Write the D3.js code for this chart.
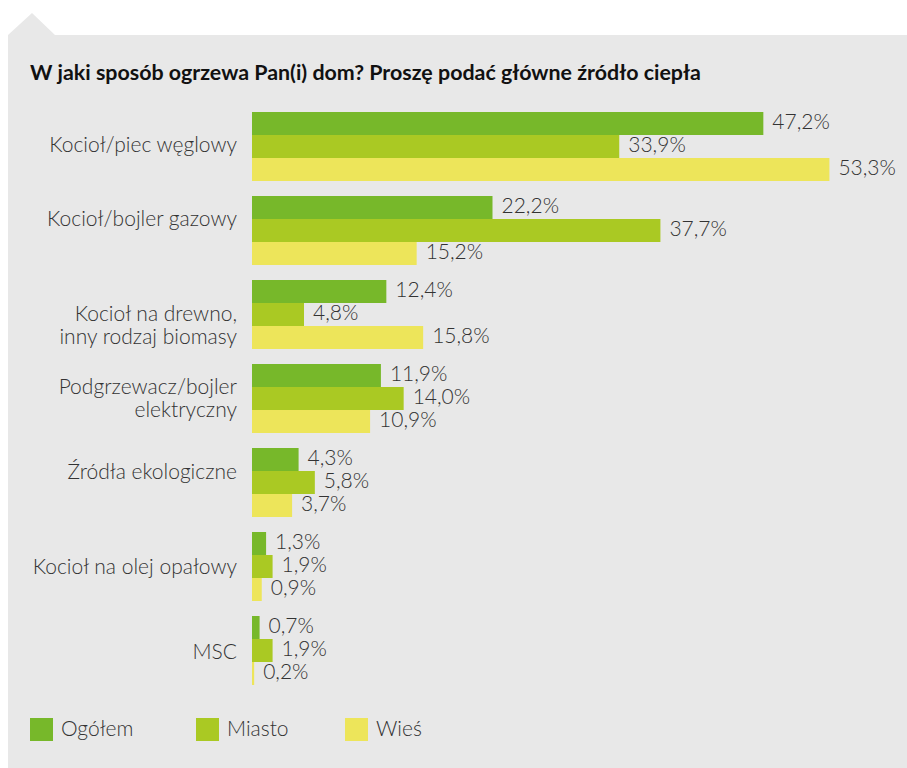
<!DOCTYPE html>
<html>
<head>
<meta charset="utf-8">
<script src="https://cdn.jsdelivr.net/npm/d3@7"></script>
<style>
  html, body { margin: 0; padding: 0; background: #ffffff; }
  svg { display: block; }
</style>
</head>
<body>
<svg id="chart" width="907" height="768"></svg>
<script>
// Survey: main heat source for the household, by place of residence (%)
const title = "W jaki sposób ogrzewa Pan(i) dom? Proszę podać główne źródło ciepła";
const categories = [
  "Kocioł/piec węglowy",
  "Kocioł/bojler gazowy",
  "Kocioł na drewno,\ninny rodzaj biomasy",
  "Podgrzewacz/bojler\nelektryczny",
  "Źródła ekologiczne",
  "Kocioł na olej opałowy",
  "MSC"
];
const seriesNames = ["Ogółem", "Miasto", "Wieś"];
const ogolem = [47.2, 22.2, 12.4, 11.9, 4.3, 1.3, 0.7];
const miasto = [33.9, 37.7, 4.8, 14.0, 5.8, 1.9, 1.9];
const wies   = [53.3, 15.2, 15.8, 10.9, 3.7, 0.9, 0.2];
const seriesColors = ["#77b82a", "#aac923", "#ede55a"];

const series = [ogolem, miasto, wies];
const fontFamily = "Lato, 'Open Sans', sans-serif";
const textColor = "#333";
const fontSize = 21;
const svg = d3.select("#chart");

// Background panel with the small tab at the top-left corner
svg.append("path")
  .attr("d", "M8,35 L32,13 L55,35 L907,35 L907,768 L8,768 Z")
  .attr("fill", "#e8e8e8");

svg.append("text")
  .attr("x", 30).attr("y", 80)
  .attr("font-family", fontFamily)
  .attr("font-weight", 700)
  .attr("font-size", 21.4)
  .attr("fill", "#111")
  .text(title);

const x = d3.scaleLinear().domain([0, 60]).range([252, 902]);
const y = d3.scaleBand().domain(d3.range(categories.length)).range([112, 685]).paddingInner(15 / 84).paddingOuter(0);
const inner = d3.scaleBand().domain(d3.range(series.length)).range([0, y.bandwidth()]);

const fmt = v => v.toFixed(1).replace(".", ",") + "%";

// Vertical nudges for the category labels (px)
const labelNudge = [1, -9, 14, 3, -8, 3, 4];

const groups = svg.append("g").selectAll("g")
  .data(categories)
  .join("g")
  .attr("transform", (d, i) => `translate(0,${y(i)})`);

groups.each(function(cat, i) {
  const g = d3.select(this);
  const rows = series.map((s, k) => ({ k, v: s[i] }));
  g.selectAll("rect")
    .data(rows)
    .join("rect")
    .attr("x", x(0))
    .attr("y", d => inner(d.k))
    .attr("width", d => x(d.v) - x(0))
    .attr("height", inner.bandwidth())
    .attr("fill", d => seriesColors[d.k]);
  g.selectAll("text.val")
    .data(rows)
    .join("text")
    .attr("class", "val")
    .attr("x", d => x(d.v) + 9)
    .attr("y", d => inner(d.k) + inner.bandwidth() / 2)
    .attr("dy", "0.27em")
    .attr("font-family", fontFamily)
    .attr("font-weight", 300)
    .attr("font-size", fontSize)
    .attr("fill", textColor)
    .text(d => fmt(d.v));

  // Category label, right-aligned against the bars, possibly on two lines
  const lines = cat.split("\n");
  const lh = 23;
  const cy = y.bandwidth() / 2 - 3 + labelNudge[i];
  const lab = g.append("text")
    .attr("text-anchor", "end")
    .attr("font-family", fontFamily)
    .attr("font-weight", 300)
    .attr("font-size", fontSize)
    .attr("fill", textColor);
  lines.forEach((ln, j) => {
    lab.append("tspan")
      .attr("x", 237)
      .attr("y", cy + (j - (lines.length - 1) / 2) * lh)
      .attr("dy", "0.34em")
      .text(ln);
  });
});

// Legend
const legendX = [30, 196, 345];
const legend = svg.append("g").selectAll("g")
  .data(seriesNames)
  .join("g")
  .attr("transform", (d, i) => `translate(${legendX[i]},718)`);
legend.append("rect")
  .attr("width", 23).attr("height", 23)
  .attr("fill", (d, i) => seriesColors[i]);
legend.append("text")
  .attr("x", 31).attr("y", 18)
  .attr("font-family", fontFamily)
  .attr("font-weight", 300)
  .attr("font-size", fontSize)
  .attr("fill", textColor)
  .text(d => d);
</script>
</body>
</html>
